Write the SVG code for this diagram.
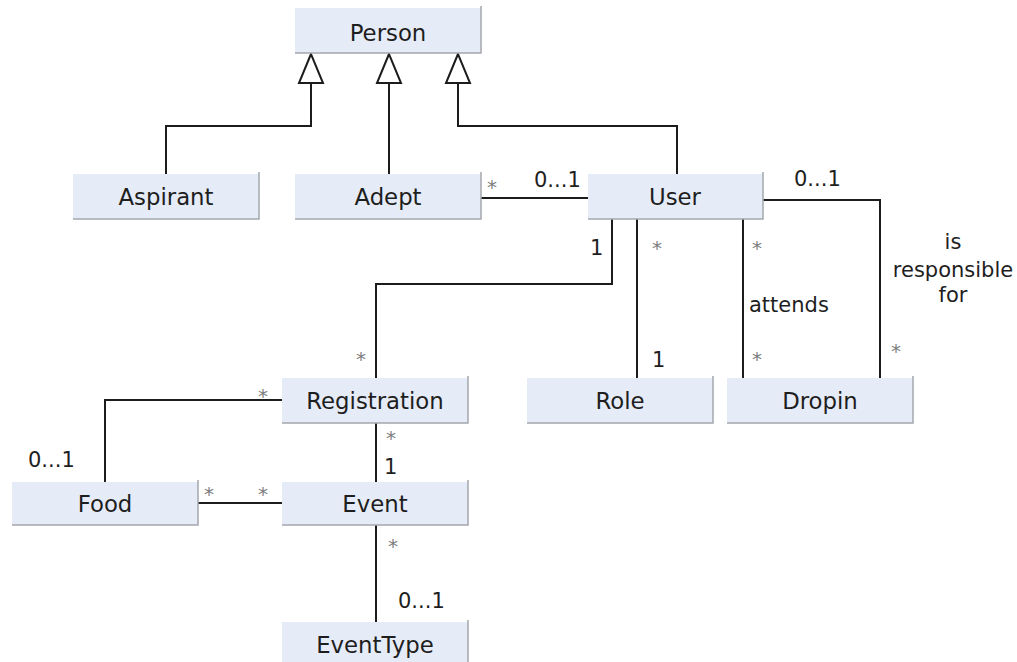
<svg xmlns="http://www.w3.org/2000/svg" width="1017" height="662" viewBox="0 0 1017 662">
  <style>
    .box { fill: #e6ecf7; }
    .edge { fill: none; stroke: #a4a7ad; stroke-width: 1.5; }
    .name { font-family: "DejaVu Sans", sans-serif; font-size: 22.8px; fill: #1e1e1e; text-anchor: middle; }
    .link { fill: none; stroke: #1c1c1c; stroke-width: 2; }
    .lbl { font-family: "DejaVu Sans", sans-serif; font-size: 21px; fill: #1e1e1e; }
    .star { font-family: "DejaVu Sans", sans-serif; font-size: 20px; fill: #7e7e7e; }
    .tri { fill: #ffffff; stroke: #1c1c1c; stroke-width: 2; stroke-linejoin: miter; }
  </style>
  <rect width="1017" height="662" fill="#ffffff"/>

  <!-- associations and generalizations -->
  <g id="connectors">
    <path class="link" d="M311 83 V126 H166 V174"/>
    <path class="link" d="M389 83 V174"/>
    <path class="link" d="M458 83 V126 H677 V174"/>
    <polygon class="tri" points="311,54 299,83 323,83"/>
    <polygon class="tri" points="389,54 377,83 401,83"/>
    <polygon class="tri" points="458,54 446,83 470,83"/>

    <path class="link" d="M481 198 H588"/>
    <path class="link" d="M612 219 V284 H376 V378"/>
    <path class="link" d="M637 219 V378"/>
    <path class="link" d="M743 219 V378"/>
    <path class="link" d="M763 200 H880 V378"/>
    <path class="link" d="M282 400 H105 V482"/>
    <path class="link" d="M376 423 V482"/>
    <path class="link" d="M197 503 H282"/>
    <path class="link" d="M376 525 V622"/>

    <!-- multiplicities and role names -->
    <text class="star" x="487" y="194">*</text>
    <text class="lbl" x="534" y="187">0...1</text>
    <text class="lbl" x="794" y="186">0...1</text>
    <text class="lbl" x="590" y="255">1</text>
    <text class="star" x="652" y="255">*</text>
    <text class="star" x="752" y="255">*</text>
    <text class="lbl" x="749" y="312">attends</text>
    <text class="star" x="752" y="366">*</text>
    <text class="lbl" x="652" y="367">1</text>
    <text class="star" x="891" y="358">*</text>
    <text class="lbl" x="953" y="249" text-anchor="middle">is</text>
    <text class="lbl" x="953" y="277" text-anchor="middle">responsible</text>
    <text class="lbl" x="953" y="302" text-anchor="middle">for</text>
    <text class="star" x="356" y="366">*</text>
    <text class="star" x="258" y="403">*</text>
    <text class="lbl" x="28" y="467">0...1</text>
    <text class="star" x="204" y="501">*</text>
    <text class="star" x="258" y="501">*</text>
    <text class="star" x="386" y="445">*</text>
    <text class="lbl" x="384" y="474">1</text>
    <text class="star" x="388" y="553">*</text>
    <text class="lbl" x="398" y="608">0...1</text>
  </g>

  <!-- classes -->
  <g id="person">
    <rect class="box" x="295" y="8" width="186" height="45"/>
    <path class="edge" d="M481 6 V53 H295"/>
    <text class="name" x="388" y="41">Person</text>
  </g>
  <g id="aspirant">
    <rect class="box" x="73" y="174" width="186" height="45"/>
    <path class="edge" d="M259 172 V219 H73"/>
    <text class="name" x="166" y="205">Aspirant</text>
  </g>
  <g id="adept">
    <rect class="box" x="295" y="174" width="186" height="45"/>
    <path class="edge" d="M481 172 V219 H295"/>
    <text class="name" x="388" y="205">Adept</text>
  </g>
  <g id="user">
    <rect class="box" x="588" y="174" width="175" height="45"/>
    <path class="edge" d="M763 172 V219 H588"/>
    <text class="name" x="675" y="205">User</text>
  </g>
  <g id="registration">
    <rect class="box" x="282" y="378" width="186" height="45"/>
    <path class="edge" d="M468 376 V423 H282"/>
    <text class="name" x="375" y="409">Registration</text>
  </g>
  <g id="role">
    <rect class="box" x="527" y="378" width="186" height="45"/>
    <path class="edge" d="M713 376 V423 H527"/>
    <text class="name" x="620" y="409">Role</text>
  </g>
  <g id="dropin">
    <rect class="box" x="727" y="378" width="186" height="45"/>
    <path class="edge" d="M913 376 V423 H727"/>
    <text class="name" x="820" y="409">Dropin</text>
  </g>
  <g id="food">
    <rect class="box" x="12" y="482" width="186" height="43"/>
    <path class="edge" d="M198 480 V525 H12"/>
    <text class="name" x="105" y="512">Food</text>
  </g>
  <g id="event">
    <rect class="box" x="282" y="482" width="186" height="43"/>
    <path class="edge" d="M468 480 V525 H282"/>
    <text class="name" x="375" y="512">Event</text>
  </g>
  <g id="eventtype">
    <rect class="box" x="282" y="622" width="186" height="45"/>
    <path class="edge" d="M468 620 V667 H282"/>
    <text class="name" x="375" y="653">EventType</text>
  </g>
</svg>
